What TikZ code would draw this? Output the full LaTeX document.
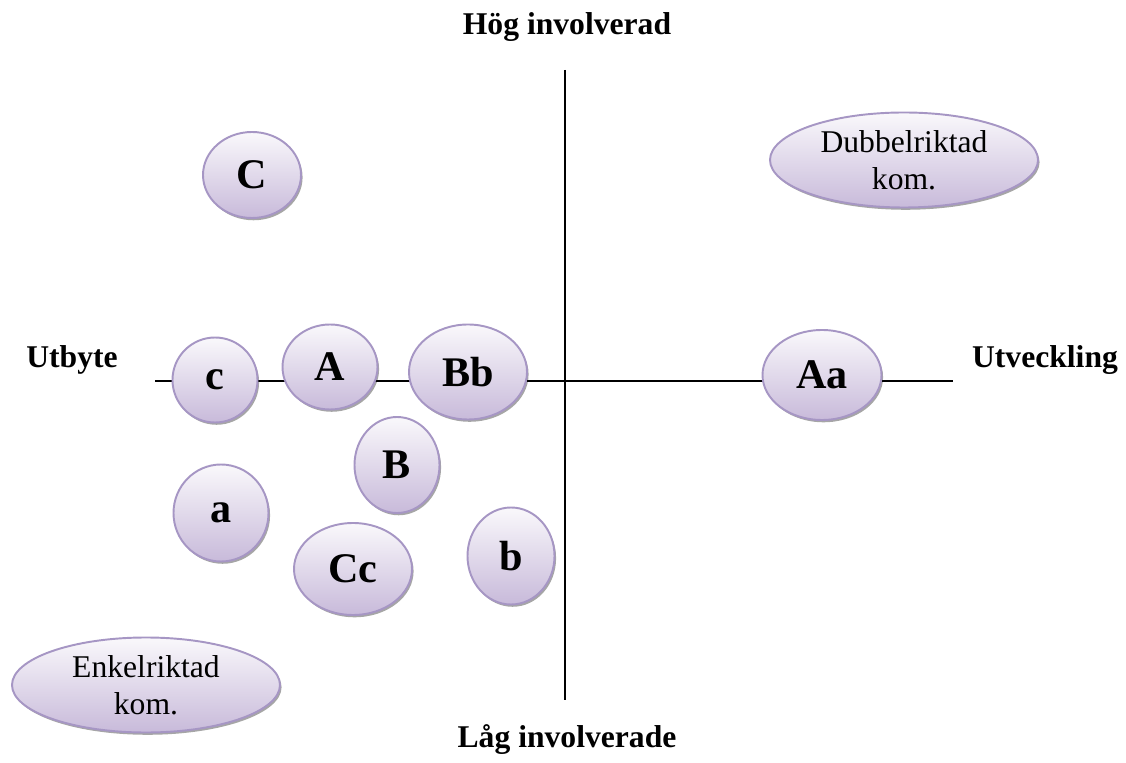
\documentclass[tikz,border=0pt]{standalone}
\usepackage{fontspec}
\setmainfont{Liberation Serif}
\usetikzlibrary{shapes.geometric,shadows}

\definecolor{lavfill}{RGB}{200,186,218}
\definecolor{lavedge}{RGB}{166,150,196}

\begin{document}
\begin{tikzpicture}[
  bubble/.style={ellipse, draw=lavedge, line width=1.1pt, inner sep=0pt,
    top color=lavfill!10!white, bottom color=lavfill,
    drop shadow={shadow xshift=0.9pt, shadow yshift=-1.3pt, fill=black, opacity=0.35},
    font=\fontsize{24}{28}\selectfont\bfseries},
  combox/.style={bubble, font=\fontsize{18}{21}\selectfont, align=center},
  axis/.style={line width=1.2pt},
  axlabel/.style={font=\fontsize{18}{22}\selectfont\bfseries}
]
\useasboundingbox (0,0) rectangle (22.52,15.24);

% axes
\coordinate (top)   at (11.30,13.84);
\coordinate (bot)   at (11.30,1.24);
\coordinate (left)  at (3.10,7.62);
\coordinate (right) at (19.06,7.62);
\draw[axis] (top) -- (bot);
\draw[axis] (left) -- (right);

\node[axlabel] (hog) at (11.34,14.70) {Hög involverad};
\node[axlabel] (lag) at (11.34,0.44)  {Låg involverade};
\node[axlabel] (utb) at (1.44,8.04)   {Utbyte};
\node[axlabel] (utv) at (20.90,8.04)  {Utveckling};

% corner labels
\node[combox, minimum width=5.36cm, minimum height=1.9cm] (dub) at (18.08,12.04) {Dubbelriktad\\kom.};
\node[combox, minimum width=5.36cm, minimum height=1.9cm] (enk) at (2.92,1.54)   {Enkelriktad\\kom.};

% bubbles
\node[bubble, minimum width=1.96cm, minimum height=1.72cm] (C)  at (5.04,11.74) {C};
\node[bubble, minimum width=1.70cm, minimum height=1.70cm] (c)  at (4.30,7.64)  {c};
\node[bubble, minimum width=1.90cm, minimum height=1.70cm] (A)  at (6.60,7.90)  {A};
\node[bubble, minimum width=2.36cm, minimum height=1.90cm] (Bb) at (9.36,7.80)  {Bb};
\node[bubble, minimum width=2.38cm, minimum height=1.80cm] (Aa) at (16.44,7.74) {Aa};
\node[bubble, minimum width=1.70cm, minimum height=1.92cm] (B)  at (7.94,5.94)  {B};
\node[bubble, minimum width=1.90cm, minimum height=1.94cm] (a)  at (4.42,4.98)  {a};
\node[bubble, minimum width=2.36cm, minimum height=1.84cm] (Cc) at (7.06,3.86)  {Cc};
\node[bubble, minimum width=1.74cm, minimum height=1.94cm] (b)  at (10.22,4.12) {b};
\end{tikzpicture}
\end{document}
